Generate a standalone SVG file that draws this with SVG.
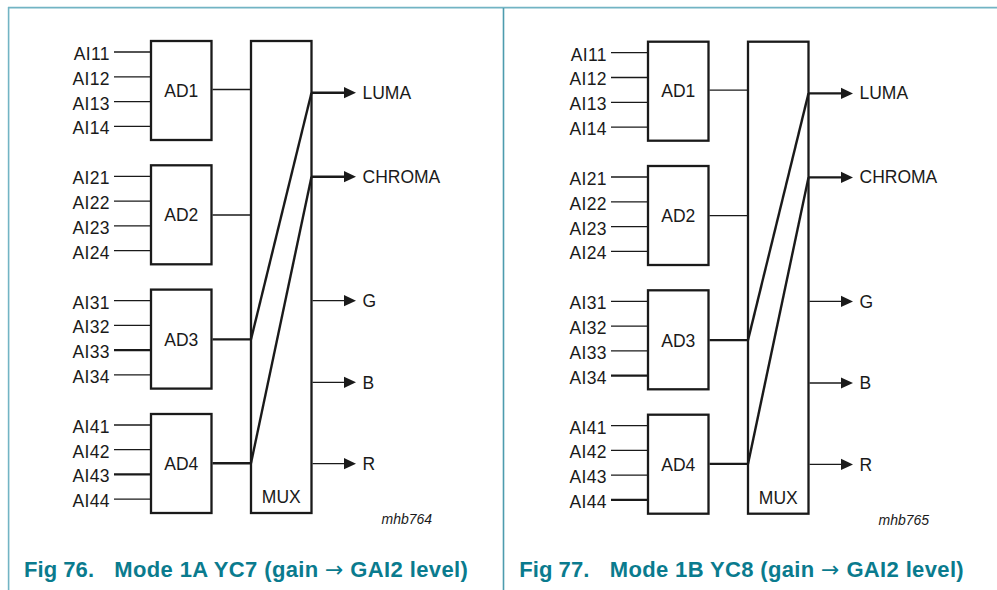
<svg xmlns="http://www.w3.org/2000/svg" width="997" height="590" viewBox="0 0 997 590">
<style>
.box{fill:#fff;stroke:#1a1a1a;stroke-width:2.3}
.thin{stroke:#1a1a1a;stroke-width:1.3;fill:none}
.thick{stroke:#1a1a1a;stroke-width:2.4;fill:none}
.lbl{font-family:"Liberation Sans",Arial,sans-serif;font-size:17.5px;fill:#1a1a1a}
.in{text-anchor:end;letter-spacing:0.4px}
.mid{text-anchor:middle}
.ref{font-family:"Liberation Sans",Arial,sans-serif;font-size:14px;font-style:italic;fill:#1a1a1a}
.cap{font-family:"Liberation Sans",Arial,sans-serif;font-size:22px;font-weight:bold;fill:#0a7b8e}
.arr{font-family:"DejaVu Sans",sans-serif;font-weight:normal}
.frame{stroke:#72b4c4;stroke-width:1.6;fill:none}
.div{stroke:#4d9cae;stroke-width:1.6;fill:none}
</style>
<defs>
<path id="ah" d="M-12,-5.6 L0,0 L-12,5.6 z" fill="#1a1a1a"/>
</defs>
<rect width="997" height="590" fill="#fff"/>
<g id="frame">
<line class="frame" x1="8" y1="7.6" x2="997" y2="7.6"/>
<line class="frame" x1="8.6" y1="7" x2="8.6" y2="590"/>
<line class="div" x1="503.5" y1="8" x2="503.5" y2="590"/>
</g>

<!-- ===== Fig 76 ===== -->
<g id="fig76">
<g id="f76-inputs" class="lbl in">
<text x="110" y="60">AI11</text>
<text x="110" y="84.8">AI12</text>
<text x="110" y="109.6">AI13</text>
<text x="110" y="134.4">AI14</text>
<text x="110" y="184.3">AI21</text>
<text x="110" y="209.1">AI22</text>
<text x="110" y="233.9">AI23</text>
<text x="110" y="258.7">AI24</text>
<text x="110" y="308.7">AI31</text>
<text x="110" y="333.4">AI32</text>
<text x="110" y="358.1">AI33</text>
<text x="110" y="382.9">AI34</text>
<text x="110" y="433">AI41</text>
<text x="110" y="457.7">AI42</text>
<text x="110" y="482.4">AI43</text>
<text x="110" y="507.2">AI44</text>
</g>
<g id="f76-ad1"><rect class="box" x="151" y="41" width="60.5" height="99"/><text class="lbl mid" x="181.3" y="96.6">AD1</text></g>
<g id="f76-ad2"><rect class="box" x="151" y="165.3" width="60.5" height="99"/><text class="lbl mid" x="181.3" y="221">AD2</text></g>
<g id="f76-ad3"><rect class="box" x="151" y="289.6" width="60.5" height="99"/><text class="lbl mid" x="181.3" y="346">AD3</text></g>
<g id="f76-ad4"><rect class="box" x="151" y="414" width="60.5" height="99"/><text class="lbl mid" x="181.3" y="470">AD4</text></g>
<g id="f76-mux"><rect class="box" x="251" y="41" width="60.5" height="472"/><text class="lbl mid" x="281.3" y="503.3">MUX</text></g>
<g id="f76-outputs" class="lbl">
<text x="362.5" y="98.8">LUMA</text>
<text x="362.5" y="182.8">CHROMA</text>
<text x="362.5" y="307">G</text>
<text x="362.5" y="388.5">B</text>
<text x="362.5" y="470">R</text>
</g>
<g id="f76-connectors">
<line class="thin" x1="114" y1="52" x2="150" y2="52"/>
<line class="thin" x1="114" y1="76.8" x2="150" y2="76.8"/>
<line class="thin" x1="114" y1="101.6" x2="150" y2="101.6"/>
<line class="thin" x1="114" y1="126.4" x2="150" y2="126.4"/>
<line class="thin" x1="114" y1="176.3" x2="150" y2="176.3"/>
<line class="thin" x1="114" y1="201.1" x2="150" y2="201.1"/>
<line class="thin" x1="114" y1="225.9" x2="150" y2="225.9"/>
<line class="thin" x1="114" y1="250.7" x2="150" y2="250.7"/>
<line class="thin" x1="114" y1="300.7" x2="150" y2="300.7"/>
<line class="thin" x1="114" y1="325.4" x2="150" y2="325.4"/>
<line class="thick" x1="114" y1="350.1" x2="150" y2="350.1"/>
<line class="thin" x1="114" y1="374.9" x2="150" y2="374.9"/>
<line class="thin" x1="114" y1="425" x2="150" y2="425"/>
<line class="thin" x1="114" y1="449.7" x2="150" y2="449.7"/>
<line class="thick" x1="114" y1="474.4" x2="150" y2="474.4"/>
<line class="thin" x1="114" y1="499.2" x2="150" y2="499.2"/>
<line class="thin" x1="212.5" y1="89.5" x2="250" y2="89.5"/>
<line class="thin" x1="212.5" y1="215" x2="250" y2="215"/>
<line class="thick" x1="212.5" y1="339.4" x2="251" y2="339.4"/>
<line class="thick" x1="212.5" y1="463.2" x2="251" y2="463.2"/>
<line class="thick" x1="251" y1="339.4" x2="311.5" y2="92.7"/>
<line class="thick" x1="251" y1="463.2" x2="311.5" y2="176.7"/>
<line class="thick" x1="311.5" y1="92.7" x2="346" y2="92.7"/>
<line class="thick" x1="311.5" y1="176.7" x2="346" y2="176.7"/>
<line class="thin" x1="312.5" y1="300.7" x2="346" y2="300.7"/>
<line class="thin" x1="312.5" y1="382.3" x2="346" y2="382.3"/>
<line class="thin" x1="312.5" y1="463.7" x2="346" y2="463.7"/>
<use href="#ah" x="356" y="92.7"/>
<use href="#ah" x="356" y="176.7"/>
<use href="#ah" x="356" y="300.7"/>
<use href="#ah" x="356" y="382.3"/>
<use href="#ah" x="356" y="463.7"/>
</g>
<text class="ref" x="381.5" y="524.3">mhb764</text>
<text class="cap" x="24" y="576.5" textLength="70">Fig 76.</text>
<text class="cap" x="114.3" y="576.5" textLength="353.5">Mode 1A YC7 (gain <tspan class="arr">→</tspan> GAI2 level)</text>
</g>

<!-- ===== Fig 77 ===== -->
<g id="fig77">
<g transform="translate(497,0.7)">
<g id="f77-inputs" class="lbl in">
<text x="110" y="60">AI11</text>
<text x="110" y="84.8">AI12</text>
<text x="110" y="109.6">AI13</text>
<text x="110" y="134.4">AI14</text>
<text x="110" y="184.3">AI21</text>
<text x="110" y="209.1">AI22</text>
<text x="110" y="233.9">AI23</text>
<text x="110" y="258.7">AI24</text>
<text x="110" y="308.7">AI31</text>
<text x="110" y="333.4">AI32</text>
<text x="110" y="358.1">AI33</text>
<text x="110" y="382.9">AI34</text>
<text x="110" y="433">AI41</text>
<text x="110" y="457.7">AI42</text>
<text x="110" y="482.4">AI43</text>
<text x="110" y="507.2">AI44</text>
</g>
<g id="f77-ad1"><rect class="box" x="151" y="41" width="60.5" height="99"/><text class="lbl mid" x="181.3" y="96.6">AD1</text></g>
<g id="f77-ad2"><rect class="box" x="151" y="165.3" width="60.5" height="99"/><text class="lbl mid" x="181.3" y="221">AD2</text></g>
<g id="f77-ad3"><rect class="box" x="151" y="289.6" width="60.5" height="99"/><text class="lbl mid" x="181.3" y="346">AD3</text></g>
<g id="f77-ad4"><rect class="box" x="151" y="414" width="60.5" height="99"/><text class="lbl mid" x="181.3" y="470">AD4</text></g>
<g id="f77-mux"><rect class="box" x="251" y="41" width="60.5" height="472"/><text class="lbl mid" x="281.3" y="503.3">MUX</text></g>
<g id="f77-outputs" class="lbl">
<text x="362.5" y="98.8">LUMA</text>
<text x="362.5" y="182.8">CHROMA</text>
<text x="362.5" y="307">G</text>
<text x="362.5" y="388.5">B</text>
<text x="362.5" y="470">R</text>
</g>
<g id="f77-connectors">
<line class="thin" x1="114" y1="52" x2="150" y2="52"/>
<line class="thin" x1="114" y1="76.8" x2="150" y2="76.8"/>
<line class="thin" x1="114" y1="101.6" x2="150" y2="101.6"/>
<line class="thin" x1="114" y1="126.4" x2="150" y2="126.4"/>
<line class="thin" x1="114" y1="176.3" x2="150" y2="176.3"/>
<line class="thin" x1="114" y1="201.1" x2="150" y2="201.1"/>
<line class="thin" x1="114" y1="225.9" x2="150" y2="225.9"/>
<line class="thin" x1="114" y1="250.7" x2="150" y2="250.7"/>
<line class="thin" x1="114" y1="300.7" x2="150" y2="300.7"/>
<line class="thin" x1="114" y1="325.4" x2="150" y2="325.4"/>
<line class="thin" x1="114" y1="350.1" x2="150" y2="350.1"/>
<line class="thick" x1="114" y1="374.9" x2="150" y2="374.9"/>
<line class="thin" x1="114" y1="425" x2="150" y2="425"/>
<line class="thin" x1="114" y1="449.7" x2="150" y2="449.7"/>
<line class="thin" x1="114" y1="474.4" x2="150" y2="474.4"/>
<line class="thick" x1="114" y1="499.2" x2="150" y2="499.2"/>
<line class="thin" x1="212.5" y1="89.5" x2="250" y2="89.5"/>
<line class="thin" x1="212.5" y1="215" x2="250" y2="215"/>
<line class="thick" x1="212.5" y1="339.4" x2="251" y2="339.4"/>
<line class="thick" x1="212.5" y1="463.2" x2="251" y2="463.2"/>
<line class="thick" x1="251" y1="339.4" x2="311.5" y2="92.7"/>
<line class="thick" x1="251" y1="463.2" x2="311.5" y2="176.7"/>
<line class="thick" x1="311.5" y1="92.7" x2="346" y2="92.7"/>
<line class="thick" x1="311.5" y1="176.7" x2="346" y2="176.7"/>
<line class="thin" x1="312.5" y1="300.7" x2="346" y2="300.7"/>
<line class="thin" x1="312.5" y1="382.3" x2="346" y2="382.3"/>
<line class="thin" x1="312.5" y1="463.7" x2="346" y2="463.7"/>
<use href="#ah" x="356" y="92.7"/>
<use href="#ah" x="356" y="176.7"/>
<use href="#ah" x="356" y="300.7"/>
<use href="#ah" x="356" y="382.3"/>
<use href="#ah" x="356" y="463.7"/>
</g>
<text class="ref" x="381.5" y="524.3">mhb765</text>
</g>
<text class="cap" x="519.3" y="576.5" textLength="70">Fig 77.</text>
<text class="cap" x="609.7" y="576.5" textLength="354">Mode 1B YC8 (gain <tspan class="arr">→</tspan> GAI2 level)</text>
</g>
</svg>
